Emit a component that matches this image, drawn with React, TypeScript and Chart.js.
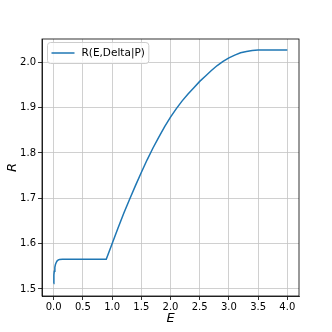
import React, { useEffect, useRef } from "react";
import { Chart, registerables } from "chart.js";

Chart.register(...registerables);

// Energy values E and response R
const energyEarly = [0, 0.002, 0.005, 0.01, 0.02, 0.03, 0.045, 0.06, 0.08, 0.1, 0.15, 0.3, 0.5, 0.7, 0.9];
const responseEarly = [1.512, 1.522, 1.531, 1.539, 1.548, 1.554, 1.559, 1.562, 1.5642, 1.565, 1.5654, 1.5655, 1.5655, 1.5655, 1.5655];
const energyRise = [1.0, 1.1, 1.2, 1.3, 1.4, 1.5, 1.6, 1.7, 1.8, 1.9, 2.0, 2.1, 2.2, 2.3, 2.4, 2.5, 2.6, 2.7, 2.8, 2.9, 3.0, 3.1, 3.2, 3.3, 3.4, 3.5, 3.75, 4.0];
const responseRise = [1.6, 1.634, 1.667, 1.698, 1.728, 1.757, 1.785, 1.811, 1.835, 1.858, 1.879, 1.898, 1.915, 1.93, 1.944, 1.958, 1.97, 1.982, 1.993, 2.002, 2.01, 2.016, 2.021, 2.024, 2.026, 2.027, 2.027, 2.027];

const seriesLabel = "R(E,Delta|P)";
const xTitle = "E";
const yTitle = "R";

const energy = [...energyEarly, ...energyRise];
const response = [...responseEarly, ...responseRise];

const FONT = "'DejaVu Sans', sans-serif";

const framePlugin = {
  id: "frame",
  afterDraw(chart: any) {
    const { ctx, chartArea } = chart;
    const { left, right, top, bottom } = chartArea;
    ctx.save();
    ctx.strokeStyle = "#000";
    ctx.lineWidth = 0.8;
    ctx.strokeRect(left, top, right - left, bottom - top);
    const ds = chart.data.datasets[0];
    ctx.font = `10.5px ${FONT}`;
    const tw = ctx.measureText(ds.label).width;
    const bx = left + 5.5;
    const by = top + 3.5;
    const bw = 34 + tw + 4;
    const bh = 21;
    const r = 3;
    ctx.beginPath();
    ctx.moveTo(bx + r, by);
    ctx.lineTo(bx + bw - r, by);
    ctx.arcTo(bx + bw, by, bx + bw, by + r, r);
    ctx.lineTo(bx + bw, by + bh - r);
    ctx.arcTo(bx + bw, by + bh, bx + bw - r, by + bh, r);
    ctx.lineTo(bx + r, by + bh);
    ctx.arcTo(bx, by + bh, bx, by + bh - r, r);
    ctx.lineTo(bx, by + r);
    ctx.arcTo(bx, by, bx + r, by, r);
    ctx.closePath();
    ctx.fillStyle = "rgba(255,255,255,0.8)";
    ctx.fill();
    ctx.strokeStyle = "#cccccc";
    ctx.lineWidth = 1;
    ctx.stroke();
    const ly = by + bh / 2;
    ctx.beginPath();
    ctx.moveTo(bx + 4, ly);
    ctx.lineTo(bx + 27, ly);
    ctx.strokeStyle = ds.borderColor;
    ctx.lineWidth = 1.5;
    ctx.stroke();
    ctx.fillStyle = "#000";
    ctx.textBaseline = "middle";
    ctx.textAlign = "left";
    ctx.fillText(ds.label, bx + 34, ly + 0.5);
    ctx.restore();
  },
};

export default function App() {
  const ref = useRef<HTMLCanvasElement | null>(null);
  useEffect(() => {
    if (!ref.current) return;
    const chart = new Chart(ref.current, {
      type: "line",
      data: {
        datasets: [
          {
            label: seriesLabel,
            data: energy.map((e, i) => ({ x: e, y: response[i] })),
            borderColor: "#1f77b4",
            backgroundColor: "#1f77b4",
            borderWidth: 1.5,
            pointRadius: 0,
            tension: 0,
            fill: false,
          },
        ],
      },
      options: {
        animation: false,
        responsive: false,
        maintainAspectRatio: false,
        layout: { padding: { left: 0, right: 33, top: 39, bottom: 0 } },
        plugins: { legend: { display: false }, tooltip: { enabled: false } },
        scales: {
          x: {
            type: "linear",
            min: -0.2,
            max: 4.2,
            afterFit: (s: any) => {
              s.height = 36;
            },
            ticks: {
              stepSize: 0.5,
              includeBounds: false,
              maxRotation: 0,
              autoSkip: false,
              padding: 1,
              color: "#000",
              font: { family: FONT, size: 10 },
              callback: (v: any) => Number(v).toFixed(1),
            },
            grid: { color: "#c4c4c4", lineWidth: 0.8, tickColor: "#000", tickLength: 4 },
            border: { display: true, color: "#000", width: 0.8 },
            title: {
              display: true,
              text: xTitle,
              color: "#000",
              font: { family: FONT, size: 13, style: "italic" },
              padding: { top: 0, bottom: 6 },
            },
          },
          y: {
            type: "linear",
            min: 1.4845,
            max: 2.0515,
            afterFit: (s: any) => {
              s.width = 42;
            },
            ticks: {
              stepSize: 0.1,
              includeBounds: false,
              autoSkip: false,
              padding: 2,
              color: "#000",
              font: { family: FONT, size: 10 },
              callback: (v: any) => Number(v).toFixed(1),
            },
            grid: { color: "#c4c4c4", lineWidth: 0.8, tickColor: "#000", tickLength: 4 },
            border: { display: true, color: "#000", width: 0.8 },
            title: {
              display: true,
              text: yTitle,
              color: "#000",
              font: { family: FONT, size: 13, style: "italic" },
              padding: { top: 5, bottom: 0 },
            },
          },
        },
      },
      plugins: [framePlugin],
    });
    return () => chart.destroy();
  }, []);
  return (
    <div style={{ position: "fixed", left: 0, top: 0, width: 332, height: 332, background: "#fff" }}>
      <canvas ref={ref} width={332} height={332} style={{ display: "block", width: 332, height: 332 }} />
    </div>
  );
}
